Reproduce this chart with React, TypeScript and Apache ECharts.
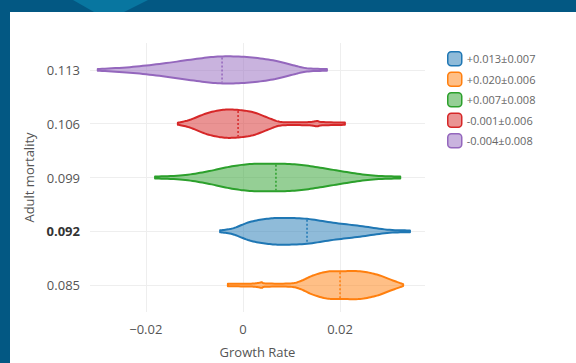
import React, { useEffect, useRef } from "react";
import * as echarts from "echarts";

// Adult mortality categories (y) and x tick values
const mortality = [0.085, 0.092, 0.099, 0.106, 0.113];
const xTicks = [-0.02, 0, 0.02];

// Legend labels, in legend order
const legendLabels = ["+0.013±0.007", "+0.020±0.006", "+0.007±0.008", "-0.001±0.006", "-0.004±0.008"];
const seriesColors = ["#1f77b4", "#ff7f0e", "#2ca02c", "#d62728", "#9467bd"];
const seriesFills = [
  "rgba(31,119,180,0.5)",
  "rgba(255,127,14,0.5)",
  "rgba(44,160,44,0.5)",
  "rgba(214,39,40,0.5)",
  "rgba(148,103,189,0.5)",
];
// mortality level of each violin, same order as legend
const seriesMortality = [0.092, 0.085, 0.099, 0.106, 0.113];
// mean growth rate (dashed line)
const seriesMeans = [0.0132, 0.02, 0.0068, -0.001, -0.0043];

// violin profiles: [growth rate, relative half-width]
const profileBlue: [number, number][] = [
  [-0.0047, 0.07], [-0.0021, 0.21], [0.0014, 0.67], [0.0049, 0.9], [0.0082, 0.97],
  [0.0132, 0.9], [0.0186, 0.62], [0.0241, 0.39], [0.0297, 0.12], [0.0344, 0.06],
];
const profileOrange: [number, number][] = [
  [-0.0031, 0.09], [0.0014, 0.1], [0.0031, 0.15], [0.0039, 0.2], [0.0047, 0.12],
  [0.0097, 0.12], [0.0118, 0.28], [0.0144, 0.69], [0.0173, 0.97], [0.02, 1.0],
  [0.0241, 1.0], [0.0276, 0.76], [0.0303, 0.41], [0.033, 0.07],
];
const profileGreen: [number, number][] = [
  [-0.0181, 0.07], [-0.0124, 0.16], [-0.0074, 0.43], [-0.0027, 0.78], [0.0014, 0.97],
  [0.0062, 1.0], [0.0111, 0.94], [0.0159, 0.71], [0.0214, 0.39], [0.0268, 0.14], [0.0324, 0.07],
];
const profileRed: [number, number][] = [
  [-0.0134, 0.07], [-0.0109, 0.28], [-0.0074, 0.76], [-0.0041, 1.0], [-0.0012, 1.0],
  [0.0021, 0.83], [0.0056, 0.37], [0.0076, 0.14], [0.0103, 0.1], [0.0138, 0.12],
  [0.0153, 0.19], [0.0163, 0.12], [0.021, 0.08],
];
const profilePurple: [number, number][] = [
  [-0.0299, 0.06], [-0.0233, 0.2], [-0.0165, 0.46], [-0.0095, 0.8], [-0.0047, 0.97],
  [0.0008, 0.93], [0.0062, 0.69], [0.0103, 0.34], [0.0132, 0.12], [0.0173, 0.06],
];
const profiles = [profileBlue, profileOrange, profileGreen, profileRed, profilePurple];

const HALF = 0.0018; // max half-width in mortality units

function sampleProfile(p: [number, number][]): [number, number][] {
  const out: [number, number][] = [];
  const n = p.length;
  for (let i = 0; i < n - 1; i++) {
    const p0 = p[Math.max(0, i - 1)];
    const p1 = p[i];
    const p2 = p[i + 1];
    const p3 = p[Math.min(n - 1, i + 2)];
    const steps = 10;
    for (let s = 0; s < steps; s++) {
      const t = s / steps;
      const t2 = t * t;
      const t3 = t2 * t;
      const cr = (a: number, b: number, c: number, d: number) =>
        0.5 * (2 * b + (-a + c) * t + (2 * a - 5 * b + 4 * c - d) * t2 + (-a + 3 * b - 3 * c + d) * t3);
      const x = cr(p0[0], p1[0], p2[0], p3[0]);
      const w = Math.max(0.04, cr(p0[1], p1[1], p2[1], p3[1]));
      out.push([x, w]);
    }
  }
  out.push(p[n - 1]);
  return out;
}

function widthAt(p: [number, number][], x: number): number {
  for (let i = 0; i < p.length - 1; i++) {
    if (x >= p[i][0] && x <= p[i + 1][0]) {
      const f = (x - p[i][0]) / (p[i + 1][0] - p[i][0]);
      return p[i][1] + f * (p[i + 1][1] - p[i][1]);
    }
  }
  return 0;
}

export default function App() {
  const ref = useRef<HTMLDivElement>(null);
  useEffect(() => {
    if (!ref.current) return;
    const chart = echarts.init(ref.current, undefined, { renderer: "svg" });
    const series: any[] = legendLabels.map((name, idx) => {
      const prof = profiles[idx];
      const m = seriesMortality[idx];
      const mean = seriesMeans[idx];
      const color = seriesColors[idx];
      const fill = seriesFills[idx];
      return {
        type: "custom",
        name,
        itemStyle: { color: fill, borderColor: color },
        data: [[mean, m]],
        renderItem: (params: any, api: any) => {
          const smooth = sampleProfile(prof);
          const top = smooth.map(([g, w]) => api.coord([g, m + w * HALF]));
          const bottom = smooth
            .slice()
            .reverse()
            .map(([g, w]) => api.coord([g, m - w * HALF]));
          const pts = top.concat(bottom);
          const wm = widthAt(smooth, mean);
          const a = api.coord([mean, m + wm * HALF]);
          const b = api.coord([mean, m - wm * HALF]);
          return {
            type: "group",
            children: [
              {
                type: "polygon",
                shape: { points: pts },
                style: { fill, stroke: color, lineWidth: 2, lineJoin: "round" },
              },
              {
                type: "line",
                shape: { x1: a[0], y1: a[1] + 1, x2: b[0], y2: b[1] - 1 },
                style: { stroke: color, lineWidth: 1.5, lineDash: [2, 2] },
              },
            ],
          };
        },
      };
    });
    chart.setOption({
      animation: false,
      textStyle: { fontFamily: "Open Sans" },
      grid: { left: 90, right: 151, top: 43, bottom: 40, containLabel: false },
      legend: {
        orient: "vertical",
        left: 442,
        top: 46,
        itemWidth: 14,
        itemHeight: 14,
        itemGap: 5,
        icon: "roundRect",
        textStyle: { fontSize: 11, color: "#666", fontFamily: "Open Sans" },
        data: legendLabels.map((name, i) => ({
          name,
          itemStyle: { color: seriesFills[i], borderColor: seriesColors[i], borderWidth: 1.5 },
        })),
      },
      xAxis: {
        type: "value",
        min: -0.0315,
        max: 0.0375,
        name: "Growth Rate",
        nameLocation: "middle",
        nameGap: 33,
        nameTextStyle: { fontSize: 13, color: "#555", fontFamily: "Open Sans" },
        axisLine: { show: false },
        axisTick: { show: false, customValues: xTicks },
        axisLabel: {
          customValues: xTicks,
          fontSize: 13,
          color: "#555",
          margin: 10,
          formatter: (v: number) => (Math.abs(v) < 1e-9 ? "0" : (v < 0 ? "−" : "") + Math.abs(v).toFixed(2)),
        },
        splitLine: { show: true, lineStyle: { color: "#eee", width: 1 } },
      },
      yAxis: {
        type: "value",
        min: 0.0815,
        max: 0.1165,
        name: "Adult mortality",
        nameLocation: "middle",
        nameGap: 48,
        nameTextStyle: { fontSize: 13, color: "#555", fontFamily: "Open Sans" },
        axisLine: { show: false },
        axisTick: { show: false, customValues: mortality },
        axisLabel: {
          customValues: mortality,
          fontSize: 13,
          color: "#555",
          margin: 10,
          formatter: (v: number) => (Math.abs(v - 0.092) < 1e-9 ? "{b|" + v.toFixed(3) + "}" : v.toFixed(3)),
          rich: { b: { fontWeight: "bold", color: "#333", fontSize: 13, fontFamily: "Open Sans" } },
        },
        splitLine: { show: true, lineStyle: { color: "#eee", width: 1 } },
      },
      series,
    });
    return () => chart.dispose();
  }, []);
  return (
    <div style={{ position: "fixed", left: 0, top: 0, width: 576, height: 363, background: "#035883", overflow: "hidden" }}>
      <div
        style={{
          position: "absolute",
          left: 0,
          top: 0,
          width: 576,
          height: 12,
          background: "#0876a0",
          clipPath: "polygon(73px 0, 148px 0, 124px 12px, 94px 12px)",
        }}
      />
      <div style={{ position: "absolute", left: 10, top: 12, right: 0, bottom: 0, background: "#ffffff" }} />
      <div ref={ref} style={{ position: "absolute", left: 0, top: 0, width: 576, height: 363 }} />
    </div>
  );
}
